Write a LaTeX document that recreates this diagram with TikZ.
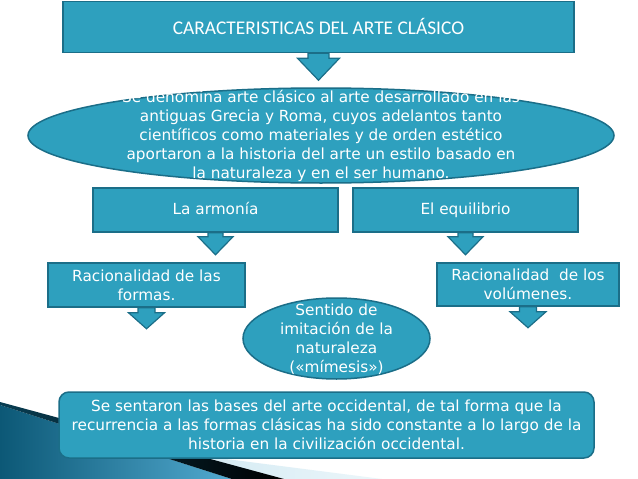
\documentclass[tikz,border=0pt]{standalone}
\usepackage{fontspec}
\setmainfont{DejaVu Sans}[Ligatures=NoCommon]
\newfontfamily\titlefont{Carlito}
\usetikzlibrary{shapes.geometric,calc}
\definecolor{boxfill}{RGB}{46,160,190}
\definecolor{boxline}{RGB}{27,110,136}
\definecolor{deepteal}{RGB}{12,88,118}
\definecolor{midblue}{RGB}{82,170,208}
\definecolor{paleblue}{RGB}{186,222,236}
\definecolor{paleend}{RGB}{236,246,250}
\newcommand{\blockarrow}[5]{%
  \draw[barrowstyle] (#1.south) ++(-#2,0) -- ++(0,#4) -- ++(#2-#3,0) -- ++(#3,#5)
    -- ++(#3,-#5) -- ++(#2-#3,0) -- ++(0,-#4) -- cycle;}
\begin{document}
\begin{tikzpicture}[x=1pt,y=-1pt,
  boxstyle/.style={draw=boxline, fill=boxfill, line width=1.5pt, inner sep=0pt},
  rectbox/.style={boxstyle, rectangle, text=white, align=center,
    font=\fontsize{15.3}{19}\selectfont},
  ellbox/.style={boxstyle, ellipse},
  txt/.style={text=white, align=center, font=\fontsize{15.3}{19}\selectfont, inner sep=0pt},
  barrowstyle/.style={draw=boxline, fill=boxfill, line width=1.2pt, line join=miter}]
\useasboundingbox (0,0) rectangle (638,479);
\fill[white] (0,0) rectangle (638,479);
% background decoration (bottom left)
\shade[left color=paleblue, right color=paleend] (0,430) -- (382,479) -- (0,479) -- cycle;
\shade[left color=deepteal, right color=midblue] (0,405) -- (232,479) -- (0,479) -- cycle;
\shade[left color=deepteal!70!black, right color=black] (0,402) -- (284,479) -- (232,479) -- (0,405) -- cycle;
% boxes
\node[rectbox, minimum width=511pt, minimum height=51pt, font=\titlefont\fontsize{19.4}{22}\selectfont]
  (top) at (318.5,27) {\raisebox{2pt}{CARACTERISTICAS DEL ARTE CLÁSICO}};
\node[ellbox, minimum width=586pt, minimum height=95pt] (ell) at (321,135.5) {};
\node[txt] (elltxt) at (321,136) {Se denomina arte clásico al arte desarrollado en las\\
antiguas Grecia y Roma, cuyos adelantos tanto\\
científicos como materiales y de orden estético\\
aportaron a la historia del arte un estilo basado en\\
la naturaleza y en el ser humano.};
\node[rectbox, minimum width=245pt, minimum height=44pt] (arm) at (215.5,210) {La armonía\vphantom{q}};
\node[rectbox, minimum width=225pt, minimum height=44pt] (equ) at (465.5,210) {El equilibrio};
\node[rectbox, minimum width=197pt, minimum height=44pt] (for) at (146.5,285)
  {Racionalidad de las\\formas.};
\node[rectbox, minimum width=182pt, minimum height=43pt] (vol) at (528,284.5)
  {Racionalidad\ \ de los\\volúmenes.};
\node[ellbox, minimum width=187pt, minimum height=81pt] (mim) at (336.5,338.5) {};
\node[txt] (mimtxt) at (336.5,339.5) {Sentido de\\imitación de la\\naturaleza\\(«mímesis»)};
\node[rectbox, rounded corners=10pt, minimum width=535pt, minimum height=66pt] (bot) at (326.5,425)
  {Se sentaron las bases del arte occidental, de tal forma que la\\
   recurrencia a las formas clásicas ha sido constante a lo largo de la\\
   historia en la civilización occidental.};
% block arrows
\blockarrow{top}{10.5}{21}{5}{22}
\blockarrow{arm}{7.5}{17.5}{4}{18}
\blockarrow{equ}{7.5}{17.5}{4}{18}
\blockarrow{for}{8.5}{18}{5}{16}
\blockarrow{vol}{8.5}{18}{5}{16}
\end{tikzpicture}
\end{document}
